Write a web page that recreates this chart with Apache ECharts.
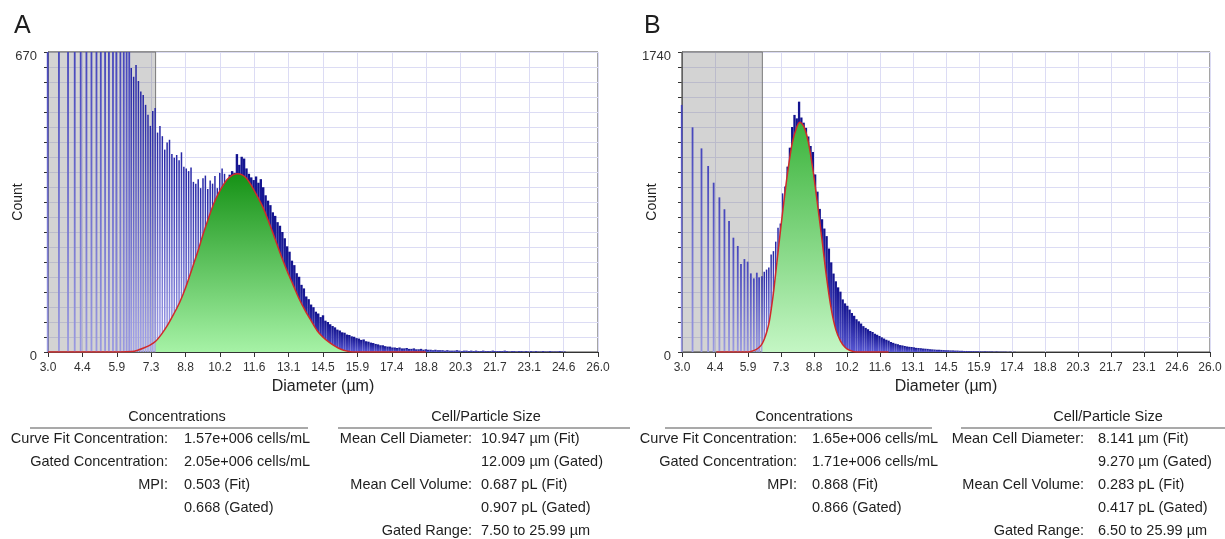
<!DOCTYPE html>
<html><head><meta charset="utf-8">
<script src="https://cdn.jsdelivr.net/npm/echarts@6/dist/echarts.min.js"></script>
<style>html,body{margin:0;padding:0;background:#fff}#c{width:1225px;height:539px}</style>
</head><body><div id="c"></div>
<script>
// ---------- axis / tick data ----------
const xTickLabels = ['3.0','4.4','5.9','7.3','8.8','10.2','11.6','13.1','14.5','15.9','17.4','18.8','20.3','21.7','23.1','24.6','26.0'];
const xMin = 3.0, xMax = 26.0;
const yMaxA = 670, yMaxB = 1740;
const gateA = 7.5, gateB = 6.5;
const binStep = 0.1;

// ---------- panel A histogram ----------
const sparseDiamA = [3.0, 3.47, 3.85, 4.13, 4.38, 4.62, 4.83, 5.04, 5.22, 5.40, 5.56, 5.73, 5.87, 6.04, 6.18, 6.30, 6.41];
const sparseCountA = [900, 880, 860, 850, 840, 820, 810, 800, 790, 780, 770, 760, 750, 740, 730, 720, 700];
const denseStartA = 6.5;
const denseCountA = [
 634,615,641,605,582,574,552,530,505,538,
 545,490,505,482,452,468,474,442,434,440,
 428,446,414,410,404,412,380,376,386,366,
 388,394,364,383,376,393,366,400,410,398,
 384,396,404,400,442,418,436,432,410,398,
 390,384,392,378,386,368,350,338,328,312,
 304,290,282,268,254,236,224,204,194,176,
 168,150,142,124,118,106,100,90,86,78,
 82,70,67,62,58,55,50,48,44,43,
 39,38,35,34,31,30,27,28,24,23,
 21,20,18,17,15,15,13,12,12,10,
 10,9,10,8,8,9,7,7,8,6,
 6,7,5,6,5,5,4,5,4,4,
 4,3,4,3,3,3,4,3,2,3,
 3,2,3,2,3,2,2,3,2,2,
 2,3,2,2,2,2,3,2,1,2,
 2,1,2,2,1,2,1,2,1,2,
 1,1,2,1,1,2,1,1,1,2,
 1,1];
const fitDiamA = [3.0,6.0,6.5,6.75,7.0,7.25,7.5,7.75,8.0,8.25,8.5,8.75,9.0,9.25,9.5,9.75,10.0,10.25,10.5,10.75,10.92,11.1,11.3,11.5,11.75,12.0,12.25,12.5,12.75,13.0,13.25,13.5,13.75,14.0,14.25,14.5,14.75,15.0,15.25,15.5,15.75,16.0,18.8];
const fitCountA = [0,0,1,4,9,15,24,40,60,84,110,143,182,222,265,305,340,366,386,396,398,396,388,372,348,322,288,252,215,181,150,119,93,70,48,33,22,13,6,2,0,0,0];

// ---------- panel B histogram ----------
const sparseDiamB = [3.0, 3.47, 3.86, 4.15, 4.39, 4.64, 4.86, 5.06, 5.25, 5.44, 5.58, 5.73, 5.87, 6.01, 6.14, 6.27, 6.37];
const sparseCountB = [1433, 1303, 1181, 1079, 982, 897, 828, 760, 663, 615, 510, 539, 524, 456, 427, 460, 433];
const denseStartB = 6.5;
const denseCountB = [
 440,466,478,490,565,585,640,720,745,920,
 960,1075,1185,1305,1375,1355,1452,1360,1330,1300,
 1250,1195,1160,1030,930,830,770,716,672,600,
 520,455,410,375,350,305,282,268,246,226,
 210,190,178,165,150,140,132,122,116,106,
 100,93,85,78,71,66,58,53,48,45,
 40,38,35,32,30,29,27,24,23,22,
 20,19,18,16,15,14,13,13,12,11,
 10,10,9,9,8,8,7,7,6,6,
 5,5,5,4,4,4,3,4,3,3,
 3,2,3,2,2,2,2,1,2,1,
 1];
const fitDiamB = [4.5,5.8,6.0,6.2,6.4,6.5,6.6,6.7,6.8,6.9,7.0,7.2,7.4,7.6,7.8,8.0,8.14,8.3,8.5,8.7,8.9,9.1,9.3,9.5,9.7,9.9,10.1,10.3,10.5,10.7,12.0];
const fitCountB = [0,0,3,12,32,50,80,120,175,260,360,600,830,1040,1210,1305,1332,1310,1220,1060,860,650,430,250,130,65,28,10,2,0,0];

// ---------- statistics tables ----------
const concLabels = ['Curve Fit Concentration:', 'Gated Concentration:', 'MPI:', ''];
const concValuesA = ['1.57e+006 cells/mL', '2.05e+006 cells/mL', '0.503 (Fit)', '0.668 (Gated)'];
const concValuesB = ['1.65e+006 cells/mL', '1.71e+006 cells/mL', '0.868 (Fit)', '0.866 (Gated)'];
const sizeLabels = ['Mean Cell Diameter:', '', 'Mean Cell Volume:', '', 'Gated Range:'];
const sizeValuesA = ['10.947 µm (Fit)', '12.009 µm (Gated)', '0.687 pL (Fit)', '0.907 pL (Gated)', '7.50 to 25.99 µm'];
const sizeValuesB = ['8.141 µm (Fit)', '9.270 µm (Gated)', '0.283 pL (Fit)', '0.417 pL (Gated)', '6.50 to 25.99 µm'];
const panelLetters = ['A', 'B'];

// ---------- build ----------
const FONT = '"Liberation Sans", Arial, sans-serif';
const xSpan = xMax - xMin;
const xTickStep = xSpan / (xTickLabels.length - 1);

function sparseData(diams, counts) { return diams.map((d, i) => [+(d - xMin).toFixed(3), counts[i]]); }
function denseData(start, counts, from, to) {
  const out = [];
  counts.forEach((c, i) => { const d = start + i * binStep; if (d >= from - 1e-9 && d < to - 1e-9) out.push([+(d - xMin).toFixed(3), c]); });
  return out;
}
function fitData(diams, counts) { return diams.map((d, i) => [d - xMin, counts[i]]); }
function gatedFitData(diams, counts, gate) {
  const out = [];
  diams.forEach((d, i) => { if (d >= gate) out.push([d - xMin, counts[i]]); });
  return out;
}

const grad = (a, b) => new echarts.graphic.LinearGradient(0, 0, 0, 1, [{offset: 0, color: a}, {offset: 1, color: b}]);

const panels = [
  {left: 48, width: 550, yMax: yMaxA, gate: gateA, sd: sparseDiamA, sc: sparseCountA, ds: denseStartA, dc: denseCountA, fd: fitDiamA, fc: fitCountA,
   green: ['#169216', '#a6f2a6'], thinUntil: 10.6, barW: 2.4},
  {left: 682, width: 528, yMax: yMaxB, gate: gateB, sd: sparseDiamB, sc: sparseCountB, ds: denseStartB, dc: denseCountB, fd: fitDiamB, fc: fitCountB,
   green: ['#3cb43c', '#c4f6c4'], thinUntil: 7.6, barW: 2.3}
];

const grids = [], xAxes = [], yAxes = [], series = [];
panels.forEach((p, k) => {
  grids.push({left: p.left, top: 52, width: p.width, height: 300, show: true, borderColor: '#4a4a4a', borderWidth: 1, backgroundColor: 'transparent'});
  xAxes.push({
    gridIndex: k, type: 'value', min: 0, max: xSpan, interval: xTickStep,
    axisLine: {show: true, onZero: false, lineStyle: {color: '#333', width: 1}},
    axisTick: {show: true, length: 5, lineStyle: {color: '#333'}},
    axisLabel: {show: true, interval: 0, showMinLabel: true, showMaxLabel: true, margin: 10, fontSize: 12, color: '#333', fontFamily: FONT,
      formatter: v => xTickLabels[Math.round(v / xTickStep)] || ''},
    splitLine: {show: true, lineStyle: {color: '#dcdcf4', width: 1}},
    name: 'Diameter (µm)', nameLocation: 'middle', nameGap: 27, nameMoveOverlap: false,
    nameTextStyle: {fontSize: 16, color: '#222', fontFamily: FONT}
  });
  yAxes.push({
    gridIndex: k, type: 'value', min: 0, max: p.yMax, interval: p.yMax / 20,
    axisLine: {show: true, lineStyle: {color: '#333', width: 1}},
    axisTick: {show: true, length: 4, lineStyle: {color: '#333'}},
    axisLabel: {show: true, showMinLabel: true, showMaxLabel: true, margin: 11, fontSize: 13, color: '#333', fontFamily: FONT,
      verticalAlign: 'top', lineHeight: 8,
      formatter: v => (Math.abs(v) < 1e-6 || Math.abs(v - p.yMax) < 1e-6) ? String(Math.round(v)) : ''},
    splitLine: {show: true, lineStyle: {color: '#dcdcf4', width: 1}},
    name: 'Count', nameLocation: 'middle', nameGap: 23, nameRotate: 90, nameMoveOverlap: false,
    nameTextStyle: {fontSize: 14, color: '#222', fontFamily: FONT}
  });
  series.push({
    type: 'bar', xAxisIndex: k, yAxisIndex: k, data: sparseData(p.sd, p.sc), barWidth: 1.8, barGap: '-100%',
    itemStyle: {color: grad('#4646bc', '#9a9ae0')}, z: 2, silent: true, animation: false
  });
  series.push({
    type: 'bar', xAxisIndex: k, yAxisIndex: k, data: denseData(p.ds, p.dc, -1, p.thinUntil), barWidth: 1.5, barGap: '-100%',
    itemStyle: {color: grad('#2626a6', '#a4a4ea')}, z: 2, silent: true, animation: false
  });
  series.push({
    type: 'bar', xAxisIndex: k, yAxisIndex: k, data: denseData(p.ds, p.dc, p.thinUntil, 99), barWidth: p.barW, barGap: '-100%',
    itemStyle: {color: grad('#12128e', '#5a5ad4')}, z: 2, silent: true, animation: false
  });
  series.push({
    type: 'line', xAxisIndex: k, yAxisIndex: k, data: [], z: 3, silent: true, animation: false,
    markArea: {silent: true, itemStyle: {color: 'rgba(120,120,120,0.33)', borderColor: '#7a7a7a', borderWidth: 1},
      data: [[{xAxis: 0}, {xAxis: p.gate - xMin}]]}
  });
  series.push({
    type: 'line', xAxisIndex: k, yAxisIndex: k, data: gatedFitData(p.fd, p.fc, p.gate), smooth: 0.3,
    showSymbol: false, symbol: 'none', lineStyle: {width: 0, opacity: 0},
    areaStyle: {opacity: 1, color: grad(p.green[0], p.green[1])},
    z: 4, silent: true, animation: false
  });
  series.push({
    type: 'line', xAxisIndex: k, yAxisIndex: k, data: fitData(p.fd, p.fc), smooth: 0.3,
    showSymbol: false, symbol: 'none', lineStyle: {width: 1.5, color: '#d12a2a'},
    z: 5, silent: true, animation: false
  });
});

// ---------- text / table graphics ----------
const graphic = [];
const TFS = 14.5;
function txt(text, x, y, align, size) {
  graphic.push({type: 'text', silent: true, style: {text, x, y, font: (size || TFS) + 'px ' + FONT, fill: '#1e1e1e',
    align, textAlign: align, verticalAlign: 'middle', textVerticalAlign: 'middle'}});
}
function hline(x1, x2, y) {
  graphic.push({type: 'line', silent: true, shape: {x1, y1: y, x2, y2: y}, style: {stroke: '#555', lineWidth: 1.2}});
}
const tableCfg = [
  {letterX: 14, concHead: 177, concLine: [30, 308], concLabR: 168, concValL: 184, sizeHead: 486, sizeLine: [338, 630], sizeLabR: 472, sizeValL: 481, cv: concValuesA, sv: sizeValuesA},
  {letterX: 644, concHead: 804, concLine: [665, 932], concLabR: 797, concValL: 812, sizeHead: 1108, sizeLine: [961, 1225], sizeLabR: 1084, sizeValL: 1098, cv: concValuesB, sv: sizeValuesB}
];
const rowY0 = 439, rowDY = 23;
tableCfg.forEach((t, k) => {
  txt(panelLetters[k], t.letterX, 26, 'left', 25);
  txt('Concentrations', t.concHead, 417, 'center');
  txt('Cell/Particle Size', t.sizeHead, 417, 'center');
  hline(t.concLine[0], t.concLine[1], 428);
  hline(t.sizeLine[0], t.sizeLine[1], 428);
  concLabels.forEach((l, i) => { if (l) txt(l, t.concLabR, rowY0 + i * rowDY, 'right'); txt(t.cv[i], t.concValL, rowY0 + i * rowDY, 'left'); });
  sizeLabels.forEach((l, i) => { if (l) txt(l, t.sizeLabR, rowY0 + i * rowDY, 'right'); txt(t.sv[i], t.sizeValL, rowY0 + i * rowDY, 'left'); });
});

const chart = echarts.init(document.getElementById('c'), null, {renderer: 'canvas'});
chart.setOption({
  animation: false,
  backgroundColor: '#ffffff',
  grid: grids, xAxis: xAxes, yAxis: yAxes, series, graphic
});
</script></body></html>
